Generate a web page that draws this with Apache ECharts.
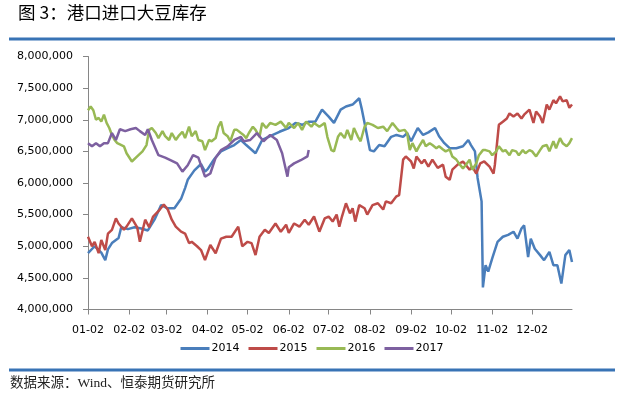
<!DOCTYPE html>
<html><head><meta charset="utf-8">
<script src="https://cdn.jsdelivr.net/npm/echarts@6/dist/echarts.min.js"></script>
<style>html,body{margin:0;padding:0;background:#fff}#c{width:624px;height:396px}</style>
</head><body><div id="c"></div>
<script>
const titleText = '图 3：港口进口大豆库存';
const sourceText = '数据来源：Wind、恒泰期货研究所';
const seriesNames = ['2014', '2015', '2016', '2017'];
const tickLabels = ['01-02','02-02','03-02','04-02','05-02','06-02','07-02','08-02','09-02','10-02','11-02','12-02'];
const yMin = 4000000, yMax = 8000000, yStep = 500000;

const dates2014 = ['01-02','01-07','01-12','01-15','01-17','01-20','01-25','01-27','02-01','02-06','02-11','02-16','02-21','02-26','03-03','03-08','03-13','03-16','03-18','03-23','03-28','03-31','04-02','04-07','04-12','04-17','04-22','04-27','05-01','05-08','05-13','05-21','05-26','06-02','06-07','06-12','06-17','06-22','06-27','07-02','07-06','07-11','07-15','07-20','07-25','07-27','07-29','08-02','08-05','08-09','08-13','08-18','08-22','08-27','08-30','09-02','09-07','09-11','09-15','09-20','09-23','09-27','10-01','10-06','10-11','10-15','10-17','10-20','10-22','10-25','10-26','10-28','10-30','11-02','11-06','11-10','11-14','11-18','11-21','11-24','11-26','11-29','12-01','12-04','12-08','12-11','12-15','12-18','12-21','12-24','12-27','12-30','01-01'];
const values2014 = [4890000,5000000,4900000,4780000,4950000,5050000,5130000,5300000,5270000,5300000,5280000,5250000,5420000,5650000,5600000,5600000,5750000,5920000,6050000,6200000,6300000,6180000,6220000,6380000,6500000,6550000,6600000,6680000,6600000,6470000,6680000,6760000,6810000,6870000,6950000,6920000,6970000,6970000,7160000,7050000,6950000,7160000,7210000,7240000,7340000,7160000,6950000,6520000,6500000,6600000,6580000,6730000,6760000,6730000,6790000,6660000,6870000,6760000,6800000,6870000,6740000,6630000,6550000,6550000,6580000,6680000,6600000,6500000,6080000,5710000,4350000,4700000,4600000,4810000,5070000,5150000,5180000,5230000,5120000,5280000,5330000,4830000,5120000,4960000,4860000,4780000,4910000,4700000,4700000,4410000,4860000,4940000,4750000];

const dates2015 = ['01-02','01-03','01-05','01-07','01-10','01-12','01-15','01-17','01-20','01-23','01-25','01-29','01-31','02-04','02-08','02-10','02-14','02-17','02-20','02-25','02-28','03-03','03-06','03-09','03-13','03-16','03-19','03-21','03-25','03-28','03-31','04-04','04-08','04-12','04-16','04-20','04-25','04-28','05-02','05-05','05-08','05-11','05-15','05-18','05-23','05-27','05-31','06-02','06-06','06-10','06-14','06-17','06-21','06-25','06-29','07-02','07-05','07-08','07-10','07-12','07-15','07-18','07-20','07-22','07-25','07-29','07-31','08-04','08-08','08-12','08-14','08-18','08-22','08-24','08-27','08-29','09-02','09-04','09-06','09-10','09-12','09-15','09-18','09-22','09-26','09-28','10-01','10-03','10-07','10-11','10-13','10-16','10-18','10-21','10-24','10-27','10-31','11-03','11-04','11-07','11-10','11-13','11-15','11-18','11-21','11-24','11-26','11-30','12-03','12-05','12-08','12-10','12-13','12-15','12-18','12-20','12-23','12-25','12-28','12-30','01-01'];
const values2015 = [5150000,5180000,5000000,5070000,4890000,5100000,4940000,5200000,5260000,5440000,5360000,5260000,5310000,5440000,5300000,5070000,5420000,5300000,5470000,5580000,5660000,5580000,5420000,5310000,5230000,5200000,5050000,5070000,5000000,4940000,4780000,5020000,4890000,5120000,5150000,5150000,5310000,5000000,5070000,5050000,4860000,5150000,5260000,5210000,5360000,5230000,5340000,5210000,5360000,5310000,5420000,5340000,5470000,5230000,5440000,5470000,5390000,5500000,5310000,5470000,5680000,5520000,5600000,5390000,5650000,5600000,5500000,5650000,5680000,5580000,5710000,5680000,5790000,5810000,6370000,6420000,6340000,6230000,6420000,6310000,6370000,6260000,6370000,6240000,6290000,6100000,6050000,6210000,6290000,6340000,6290000,6210000,6260000,6150000,6310000,6340000,6260000,6150000,6290000,6920000,6970000,7020000,7100000,7050000,7100000,7020000,7080000,7160000,6950000,7130000,7050000,6950000,7240000,7160000,7310000,7260000,7370000,7290000,7310000,7190000,7240000];

const dates2016 = ['01-02','01-04','01-06','01-08','01-10','01-12','01-14','01-16','01-18','01-20','01-22','01-24','01-26','01-29','01-31','02-04','02-08','02-12','02-15','02-17','02-19','02-22','02-24','02-27','03-01','03-04','03-06','03-09','03-11','03-14','03-16','03-19','03-21','03-24','03-26','03-29','03-31','04-03','04-05','04-08','04-10','04-12','04-14','04-17','04-19','04-22','04-24','04-27','04-29','05-01','05-03','05-06','05-08','05-11','05-13','05-16','05-19','05-23','05-27','05-31','06-02','06-06','06-09','06-12','06-15','06-19','06-21','06-25','06-29','07-01','07-04','07-06','07-09','07-11','07-14','07-16','07-19','07-21','07-24','07-26','07-29','07-31','08-04','08-08','08-12','08-15','08-19','08-22','08-24','08-28','08-30','09-01','09-03','09-06','09-08','09-11','09-13','09-16','09-18','09-21','09-23','09-26','09-28','10-01','10-03','10-06','10-08','10-11','10-13','10-16','10-18','10-21','10-23','10-26','10-28','10-31','11-02','11-05','11-07','11-10','11-12','11-15','11-17','11-20','11-22','11-25','11-27','11-30','12-02','12-05','12-08','12-10','12-13','12-15','12-18','12-20','12-23','12-25','12-28','12-30','01-01'];
const values2016 = [7150000,7210000,7150000,7000000,7030000,6970000,7080000,6950000,6870000,6760000,6680000,6630000,6610000,6580000,6470000,6340000,6420000,6500000,6600000,6840000,6870000,6790000,6710000,6820000,6740000,6680000,6790000,6680000,6740000,6810000,6710000,6890000,6740000,6820000,6680000,6660000,6520000,6680000,6660000,6710000,6890000,6970000,6790000,6740000,6660000,6840000,6840000,6790000,6760000,6710000,6790000,6890000,6840000,6730000,6950000,6870000,6950000,6920000,6970000,6870000,6950000,6870000,6950000,6840000,6970000,6890000,6950000,6890000,6950000,6730000,6520000,6500000,6730000,6790000,6710000,6840000,6680000,6870000,6730000,6660000,6890000,6950000,6920000,6870000,6890000,6820000,6950000,6870000,6820000,6840000,6790000,6520000,6630000,6500000,6580000,6680000,6580000,6630000,6600000,6550000,6580000,6530000,6500000,6530000,6420000,6370000,6310000,6230000,6280000,6370000,6210000,6310000,6440000,6520000,6520000,6500000,6440000,6500000,6580000,6500000,6520000,6440000,6520000,6500000,6440000,6520000,6470000,6520000,6500000,6420000,6520000,6580000,6600000,6500000,6660000,6550000,6710000,6630000,6580000,6630000,6710000];

const dates2017 = ['01-02','01-05','01-08','01-11','01-14','01-17','01-20','01-23','01-26','01-30','02-03','02-07','02-10','02-14','02-16','02-19','02-24','03-01','03-05','03-10','03-14','03-18','03-22','03-26','03-31','04-04','04-08','04-12','04-17','04-22','04-27','04-29','05-04','05-09','05-14','05-19','05-24','05-28','06-01','06-02','06-06','06-11','06-16','06-17'];
const values2017 = [6630000,6580000,6630000,6580000,6630000,6630000,6790000,6680000,6850000,6820000,6850000,6870000,6820000,6760000,6850000,6680000,6440000,6400000,6360000,6310000,6180000,6280000,6440000,6400000,6100000,6150000,6400000,6520000,6580000,6680000,6730000,6660000,6680000,6790000,6660000,6760000,6680000,6470000,6100000,6250000,6310000,6360000,6420000,6520000];

// x axis: every calendar day from 01-02 to the following 01-01
const monthLengths = [31,28,31,30,31,30,31,31,30,31,30,31];
const categories = [];
for (let m = 0; m < 12; m++) {
  for (let d = 1; d <= monthLengths[m]; d++) {
    if (m === 0 && d === 1) continue;
    categories.push(String(m + 1).padStart(2, '0') + '-' + String(d).padStart(2, '0'));
  }
}
categories.push('01-01');

const colors = ['#4A7EBB', '#BE4B48', '#98B954', '#7D60A0'];
const allDates = [dates2014, dates2015, dates2016, dates2017];
const allValues = [values2014, values2015, values2016, values2017];
const isTick = (i, v) => tickLabels.indexOf(v) >= 0;

const chart = echarts.init(document.getElementById('c'), null, {renderer: 'canvas'});
chart.setOption({
  animation: false,
  color: colors,
  textStyle: {fontFamily: 'DejaVu Sans'},
  grid: {left: 88, right: 52, top: 56.5, bottom: 86.5, containLabel: false},
  xAxis: {
    type: 'category', data: categories, boundaryGap: false,
    axisLine: {lineStyle: {color: '#868686', width: 1}},
    axisTick: {interval: isTick, length: 5, lineStyle: {color: '#868686'}},
    axisLabel: {interval: isTick, color: '#000', fontSize: 11, margin: 15, fontFamily: 'DejaVu Sans'},
    splitLine: {show: false}
  },
  yAxis: {
    type: 'value', min: yMin, max: yMax, interval: yStep,
    axisLine: {show: true, lineStyle: {color: '#868686', width: 1}},
    axisTick: {show: true, length: 5, lineStyle: {color: '#868686'}},
    axisLabel: {color: '#000', fontSize: 11, margin: 15, fontFamily: 'DejaVu Sans',
      formatter: v => v.toLocaleString('en-US')},
    splitLine: {show: false}
  },
  legend: {
    data: seriesNames, top: 338, left: 'center', icon: 'rect',
    itemWidth: 29, itemHeight: 3, itemGap: 9,
    textStyle: {color: '#000', fontSize: 11, fontFamily: 'DejaVu Sans', padding: [0, 0, 0, -3]}
  },
  series: seriesNames.map((name, k) => ({
    name: name, type: 'line', symbol: 'none', smooth: false,
    lineStyle: {width: 2.5, color: colors[k]},
    itemStyle: {color: colors[k]},
    data: allDates[k].map((d, i) => [d, allValues[k][i]])
  })),
  graphic: [
    {type: 'text', left: 18, top: 4, style: {text: titleText, font: '17.5px "Noto Sans CJK SC"', fill: '#000'}},
    {type: 'rect', shape: {x: 9, y: 37.5, width: 606, height: 3}, style: {fill: '#3873B5'}},
    {type: 'rect', shape: {x: 9, y: 368.5, width: 606, height: 3}, style: {fill: '#3873B5'}},
    {type: 'text', left: 10, top: 377, style: {text: sourceText, font: '13.5px "Liberation Serif", "Noto Sans CJK SC"', fill: '#222'}}
  ]
});
</script></body></html>
